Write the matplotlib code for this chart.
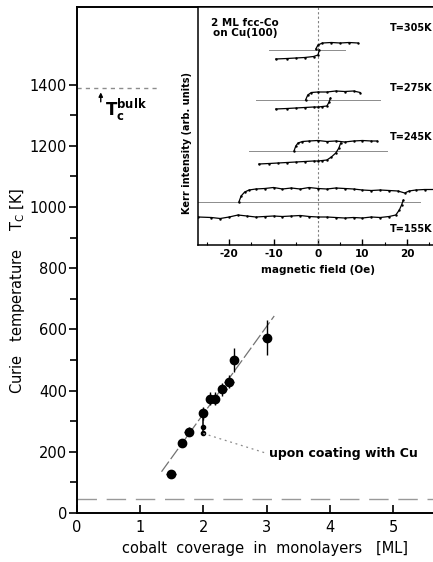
# Curie temperature of fcc-Co films on Cu(100) with Kerr hysteresis inset
import numpy as np
import matplotlib
matplotlib.use('Agg')
import matplotlib.pyplot as plt

plt.rcParams['axes.unicode_minus'] = False
plt.rcParams['font.family'] = ['DejaVu Sans']

# main panel data
coverage = [1.49, 1.66, 1.77, 2.00, 2.11, 2.18, 2.30, 2.40, 2.48, 3.00]
tc = [127, 228, 266, 326, 374, 374, 404, 429, 500, 573]
tc_err = [12, 12, 14, 21, 20, 20, 20, 22, 38, 58]
cov_err = [0.08, 0.06, 0.07, 0.02, 0.06, 0.06, 0.07, 0.08, 0.03, 0.07]
coat_cov = [2.00, 2.00]
coat_tc = [282, 260]
fit_x = [1.34, 3.12]
fit_y = [135, 644]
tc_bulk = 1388
base_level = 46

# inset: Kerr loops (field in Oe, intensity in arb. units)
temps = ['T=305K', 'T=275K', 'T=245K', 'T=155K']
label_y = [217, 157, 108, 16]
ref_y = [195, 145, 94, 43]
ref_x = [(-11, 6), (-14, 14), (-15.5, 15.5), (-27, 23)]

up_x = [
    [-0.5, 0, 1, 3, 5, 7, 9],
    [-2.8, -2.3, -1.5, 0, 2, 4, 6, 8, 9.5],
    [-5.4, -5, -4.5, -3.5, -2, 0, 2, 4, 6, 8, 10, 12, 13.3],
    [-17.8, -17.3, -16.5, -15.5, -14, -12, -10, -8, -6, -4, -2, 0, 2, 4, 6, 8,
     10, 12, 14, 16, 18, 19.5, 20.5, 22, 24, 27],
]
up_y = [
    [196, 200, 202, 202.5, 202, 202.5, 202],
    [145, 150, 152.5, 153, 153, 154, 153.5, 154, 152.5],
    [94, 99, 102, 103.5, 104, 104.5, 103.5, 104, 103, 104, 104.5, 104, 104],
    [43, 49, 53, 55, 56, 56.5, 57.5, 56, 57, 56, 57.5, 56.5, 56, 57, 56.5, 56,
     55, 54.5, 55, 54.5, 54, 52, 54, 55, 55.5, 55.5],
]
low_x = [
    [-9.5, -7, -5, -3, -1, 0, 0.3],
    [-9.5, -7, -5, -3, -1, 0, 1, 2, 2.5, 2.8],
    [-13.3, -11, -9, -7, -5, -3, -1, 0, 1, 2, 3, 4, 4.7, 5.1],
    [-27, -24, -22, -20, -18, -16, -14, -12, -10, -8, -6, -4, -2, 0, 2, 4, 6,
     8, 10, 12, 14, 16, 17.5, 18.3, 18.8, 19.2],
]
low_y = [
    [186, 186.5, 187, 187.5, 188.5, 190, 195],
    [136, 136.5, 137, 137.5, 138, 138, 138.5, 139, 143, 147],
    [81, 81.5, 82, 82.5, 83, 83.5, 84, 84, 84.5, 85, 88, 92, 97, 102],
    [28, 27.5, 26.5, 28, 30, 29, 28, 28.5, 29, 28.5, 29, 29.5, 28.5, 28, 28,
     27.5, 27, 27.5, 27, 28, 27.5, 28.5, 30, 35, 40, 45],
]

W, H = 433, 562
fig = plt.figure(figsize=(W / 100, H / 100), dpi=100)

# main axes, right edge runs off the figure like the scan
ax = fig.add_axes([76.7 / W, 49 / H, 364 / W, 506 / H])
ax.set_xlim(0, 5.75)
ax.set_ylim(0, 1654)
ax.spines['right'].set_visible(False)
for s in ['left', 'bottom', 'top']:
    ax.spines[s].set_linewidth(1.4)

ax.set_xticks([0, 1, 2, 3, 4, 5])
ax.set_yticks(np.arange(0, 1401, 200))
ax.set_yticks(np.arange(100, 1400, 200), minor=True)
ax.tick_params(axis='x', direction='in', length=6, width=1.2, labelsize=10.5, pad=5)
ax.tick_params(axis='y', direction='out', length=6, width=1.2, labelsize=10.5, pad=1)
ax.tick_params(axis='y', which='minor', direction='out', length=5, width=1.2)

fig.text(18 / W, 1 - 291 / H, 'Curie   temperature    T$_\\mathregular{C}$ [K]',
         rotation=90, ha='center', va='center', fontsize=10.5)
fig.text(265 / W, 1 - 549 / H, 'cobalt  coverage  in  monolayers   [ML]',
         ha='center', va='center', fontsize=10.5)

# reference lines
ax.plot([0, 1.29], [tc_bulk, tc_bulk], color='0.55', lw=1.0, dashes=(3, 3))
ax.axhline(base_level, color='0.6', lw=1.0, dashes=(14, 7))
ax.plot(fit_x, fit_y, color='0.45', lw=0.9, dashes=(10, 2.5))

ax.annotate('', xy=(0.38, 1384), xytext=(0.38, 1335),
            arrowprops=dict(arrowstyle='-|>', color='black', lw=1.0, mutation_scale=6))
ax.text(0.45, 1318, 'T$_\\mathregular{c}^\\mathregular{bulk}$', fontsize=12,
        fontweight='bold', va='center', ha='left')

# data
ax.errorbar(coverage, tc, yerr=tc_err, xerr=cov_err, fmt='o', color='black',
            ms=6, elinewidth=1.0, capsize=0, zorder=5)
ax.plot([coverage[3]] + coat_cov, [tc[3]] + coat_tc, color='black', lw=1.1)
ax.plot(coat_cov, coat_tc, 'o', color='black', ms=3)
ax.plot([coat_cov[1], 3.0], [coat_tc[1], 195], color='0.55', lw=0.9, dashes=(1.5, 3))
ax.text(3.04, 195, 'upon coating with Cu', fontsize=9, fontweight='bold',
        va='center', ha='left')

# inset
ins = fig.add_axes([198 / W, (H - 245) / H, 240 / W, 238 / H])
ins.set_xlim(-27, 27)
ins.set_ylim(0, 238)
ins.spines['right'].set_visible(False)
for s in ['left', 'bottom', 'top']:
    ins.spines[s].set_linewidth(1.1)
ins.set_yticks([])
ins.set_xticks([-20, -10, 0, 10, 20])
ins.set_xticks([-25, -15, -5, 5, 15, 25], minor=True)
ins.tick_params(axis='x', direction='in', length=4, width=1.0, labelsize=7.5, pad=3)
ins.tick_params(axis='x', which='minor', direction='in', length=2.5, width=0.8)
for lab in ins.get_xticklabels():
    lab.set_fontweight('bold')
ins.set_xlabel('magnetic field (Oe)', fontsize=7.5, fontweight='bold', labelpad=4)
fig.text(187 / W, 1 - 143 / H, 'Kerr intensity (arb. units)', rotation=90,
         ha='center', va='center', fontsize=7, fontweight='bold')

ins.axvline(0, color='0.5', lw=0.8, dashes=(2, 2))
for i in range(len(temps)):
    ins.plot(ref_x[i], [ref_y[i], ref_y[i]], color='0.55', lw=0.7)
    ins.plot(up_x[i], up_y[i], color='black', lw=0.9, marker='.', ms=1.5)
    ins.plot(low_x[i], low_y[i], color='black', lw=0.9, marker='.', ms=1.5)
    ins.text(16.2, label_y[i], temps[i], fontsize=7, fontweight='bold',
             va='center', ha='left')
ins.text(-16.4, 217, '2 ML fcc-Co\non Cu(100)', fontsize=7.5, fontweight='bold',
         ha='center', va='center', linespacing=1.0)

fig.savefig('out.png', dpi=100)
